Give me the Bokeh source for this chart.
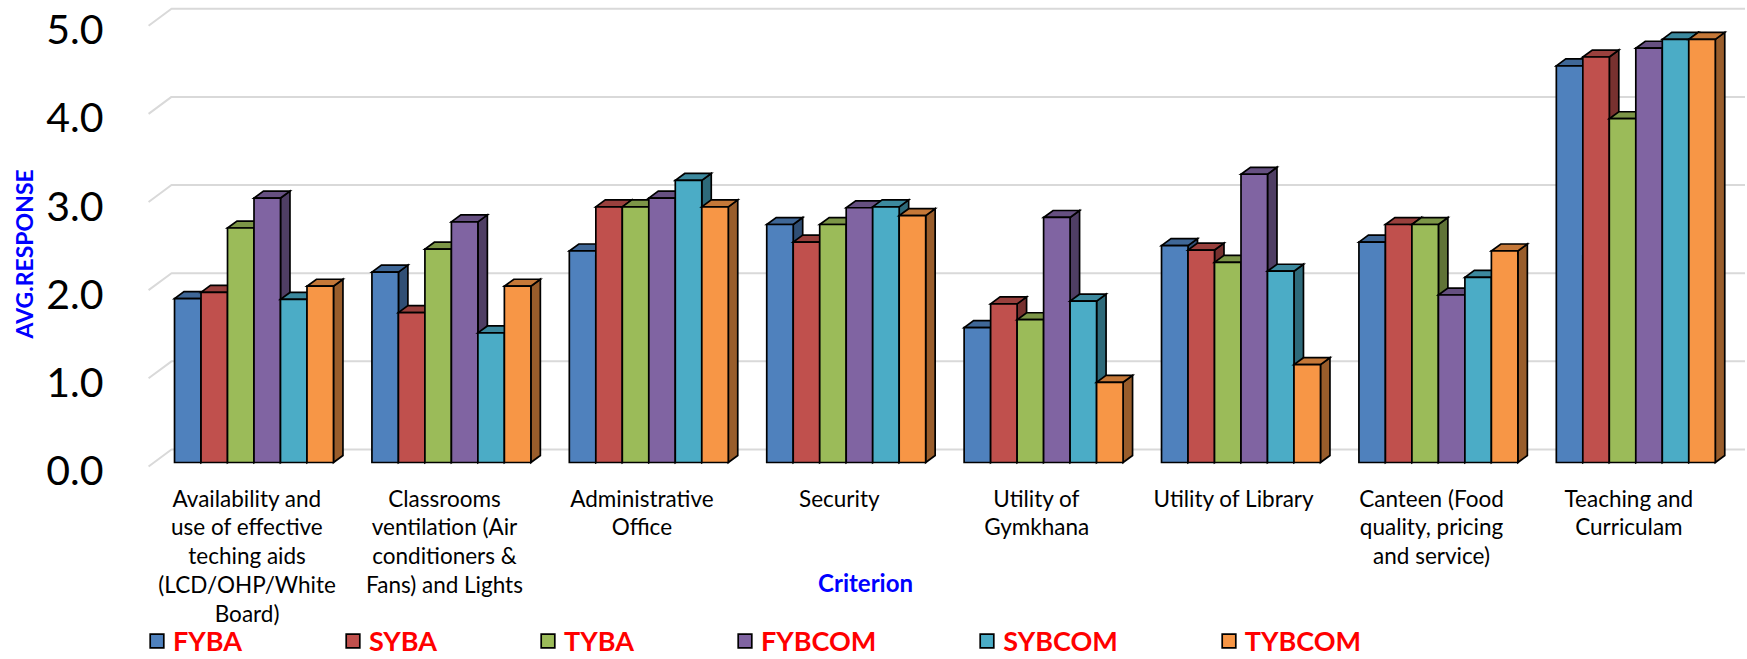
import numpy as np
from bokeh.plotting import figure
from bokeh.models import (Range1d, LinearAxis, FixedTicker, Legend, LegendItem,
                          Label, Title, ColumnDataSource, CustomJSTickFormatter)
from bokeh.embed import file_html
from bokeh.resources import INLINE
from bokeh.core.properties import value

# ---------------- data ----------------
categories = [
    "Availability and\nuse of effective\nteching aids\n(LCD/OHP/White\nBoard)",
    "Classrooms\nventilation (Air\nconditioners &\nFans) and Lights",
    "Administrative\nOffice",
    "Security",
    "Utility of\nGymkhana",
    "Utility of Library",
    "Canteen (Food\nquality, pricing\nand service)",
    "Teaching and\nCurriculam",
]
series_names = ["FYBA", "SYBA", "TYBA", "FYBCOM", "SYBCOM", "TYBCOM"]
FYBA = [1.86, 2.16, 2.40, 2.70, 1.53, 2.46, 2.50, 4.50]
SYBA = [1.93, 1.70, 2.90, 2.50, 1.80, 2.41, 2.70, 4.60]
TYBA = [2.66, 2.42, 2.90, 2.70, 1.62, 2.27, 2.70, 3.90]
FYBCOM = [3.00, 2.73, 3.00, 2.89, 2.78, 3.27, 1.90, 4.70]
SYBCOM = [1.85, 1.47, 3.20, 2.90, 1.83, 2.17, 2.10, 4.80]
TYBCOM = [2.00, 2.00, 2.90, 2.80, 0.91, 1.11, 2.40, 4.80]
y_ticks = [0, 1, 2, 3, 4, 5]

series_values = [FYBA, SYBA, TYBA, FYBCOM, SYBCOM, TYBCOM]
colors = ["#4F81BD", "#C0504D", "#9BBB59", "#8064A2", "#4BACC6", "#F79646"]


def shade(hex_color, f):
    h = hex_color.lstrip("#")
    r, g, b = (int(h[i:i + 2], 16) for i in (0, 2, 4))
    return "#%02x%02x%02x" % (int(r * f), int(g * f), int(b * f))


# ---------------- layout constants ----------------
bw = 0.1342          # bar width (group units)
dx = 0.048           # 3-D depth, horizontal (group units)
dy = 0.079           # 3-D depth, vertical (value units)
wall_dy = 0.1475     # back wall offset (value units)
wall_x = -0.418      # back wall left edge
diag_x = -0.534      # front end of wall diagonals
diag_dy = -0.045

W, H = 1745, 657
x_range = Range1d(-0.6763, 7.5557)
y_range = Range1d(-2.212, 5.241)
lab_off = 0.0908

p = figure(width=W, height=H, x_range=x_range, y_range=y_range,
           output_backend="svg", toolbar_location=None,
           x_axis_type=None, y_axis_type=None,
           min_border_left=120, min_border_right=0,
           min_border_top=0, min_border_bottom=0)
p.outline_line_color = None
p.background_fill_color = "white"
p.border_fill_color = "white"

# back wall gridlines
gxs, gys = [], []
for t in y_ticks:
    gxs.append([diag_x, wall_x, x_range.end + 1])
    gys.append([t + diag_dy, t + wall_dy, t + wall_dy])
p.multi_line(gxs, gys, line_color="#d9d9d9", line_width=2)

# bars
n = len(categories)
legend_items = []
for s, (name, vals, col) in enumerate(zip(series_names, series_values, colors)):
    lefts = [g - 3 * bw + s * bw for g in range(n)]
    rights = [l + bw for l in lefts]
    side_xs = [[r, r + dx, r + dx, r] for r in rights]
    side_ys = [[0, dy, v + dy, v] for v in vals]
    top_xs = [[l, r, r + dx, l + dx] for l, r in zip(lefts, rights)]
    top_ys = [[v, v, v + dy, v + dy] for v in vals]
    p.patches(side_xs, side_ys, fill_color=shade(col, 0.62),
              line_color="black", line_width=1.7, line_join="miter")
    p.patches(top_xs, top_ys, fill_color=shade(col, 0.8),
              line_color="black", line_width=1.7, line_join="miter")
    src = ColumnDataSource(dict(left=lefts, right=rights, top=vals,
                                bottom=[0] * n))
    r = p.quad(left="left", right="right", top="top", bottom="bottom",
               source=src, fill_color=col, line_color="black",
               line_width=1.7, line_join="miter")
    legend_items.append(LegendItem(label=name, renderers=[r]))

# category labels
cat_src = ColumnDataSource(dict(x=[g - 0.035 for g in range(n)],
                                y=[-0.2496] * n, text=categories))
p.text(x="x", y="y", text="text", source=cat_src,
       text_font=value("Lato"), text_font_size="22.5px", text_color="black",
       text_align="center", text_baseline="top", text_line_height=1.07)

# y axis
p.extra_y_ranges = {"lab": Range1d(y_range.start + lab_off, y_range.end + lab_off)}
ax = LinearAxis(y_range_name="lab", ticker=FixedTicker(ticks=y_ticks),
                formatter=CustomJSTickFormatter(code="return tick.toFixed(1)"),
                axis_line_color=None, major_tick_line_color=None,
                minor_tick_line_color=None, major_tick_out=0, major_tick_in=0,
                major_label_standoff=17,
                major_label_text_font="Lato", major_label_text_font_size="41px",
                major_label_text_color="black")
p.add_layout(ax, "left")

ytitle = Title(text="AVG.RESPONSE", align="left", offset=319,
               text_font="Lato", text_font_style="bold",
               text_font_size="23px", text_color="#0000ff", standoff=11)
p.add_layout(ytitle, "left")

p.add_layout(Label(x=3.098, y=-1.361, text="Criterion",
                   text_align="center", text_baseline="middle",
                   text_font="Lato", text_font_style="bold",
                   text_font_size="24px", text_color="#0000ff"))

legend = Legend(items=legend_items, orientation="horizontal", location=(28, 0),
                glyph_width=17, glyph_height=17, label_standoff=8, spacing=102,
                padding=0, margin=0, border_line_color=None,
                background_fill_alpha=0, label_width=0, label_height=20,
                label_text_font="Lato", label_text_font_style="bold",
                label_text_font_size="27px", label_text_color="#ff0000")
p.add_layout(legend)

open("out.html", "w").write(file_html(p, INLINE))
